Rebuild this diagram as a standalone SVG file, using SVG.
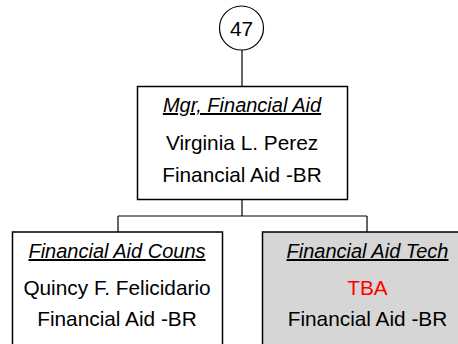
<svg xmlns="http://www.w3.org/2000/svg" width="458" height="344" viewBox="0 0 458 344">
<style>
.box{fill:#fff;stroke:#000;stroke-width:1.5}
.vac{fill:#d6d6d6}
.conn{fill:none;stroke:#000;stroke-width:1.2}
text{font-family:"Liberation Sans",Arial,sans-serif;font-size:20.8px;text-anchor:middle;fill:#000}
.t{font-style:italic;text-decoration:underline;font-size:20px}
.red{fill:#ff0000}
</style>
<rect width="458" height="344" fill="#fff"/>
<g id="connectors">
<path class="conn" d="M242,50V86M242,200V216M118,216H367M118,216V232M367,216V232"/>
</g>
<g id="n47">
<circle cx="241.5" cy="28" r="22" fill="#fff" stroke="#000" stroke-width="1.2"/>
<text x="241.5" y="35.5">47</text>
</g>
<g id="mgr">
<rect class="box" x="137.5" y="86.5" width="210" height="113"/>
<text class="t" x="242" y="112">Mgr, Financial Aid</text>
<text x="242" y="150">Virginia L. Perez</text>
<text x="242" y="182">Financial Aid -BR</text>
</g>
<g id="couns">
<rect class="box" x="12.5" y="232" width="210" height="120"/>
<text class="t" x="117" y="258">Financial Aid Couns</text>
<text x="117" y="295">Quincy F. Felicidario</text>
<text x="117" y="326">Financial Aid -BR</text>
</g>
<g id="tech">
<rect class="box vac" x="262.5" y="232" width="210" height="120"/>
<text class="t" x="367.5" y="258">Financial Aid Tech</text>
<text class="red" x="367.5" y="295">TBA</text>
<text x="367.5" y="326">Financial Aid -BR</text>
</g>
</svg>
